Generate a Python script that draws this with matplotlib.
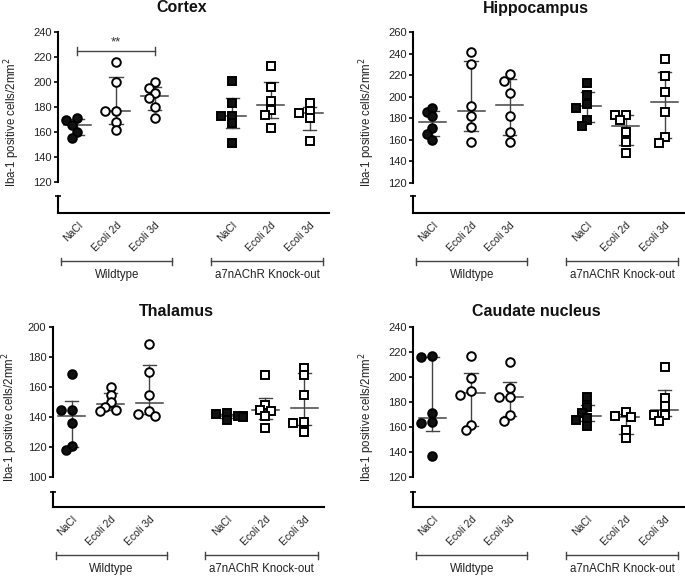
"""
Iba-1 positive cells per brain region, wildtype vs a7nAChR knock-out
"""

import matplotlib.pyplot as plt
import numpy as np

plt.rcParams["font.family"] = ["Liberation Sans", "DejaVu Sans"]

W, H = 685, 576

conditions = ["NaCl", "Ecoli 2d", "Ecoli 3d"]
genotypes = ["Wildtype", "a7nAChR Knock-out"]
ylabel = "Iba-1 positive cells/2mm$^{2}$"

# values per group: WT NaCl, WT Ecoli 2d, WT Ecoli 3d, KO NaCl, KO Ecoli 2d, KO Ecoli 3d
cortex = [
    [170, 171, 166, 160, 155],
    [216, 200, 177, 177, 168, 162],
    [200, 195, 191, 187, 180, 171],
    [201, 183, 173, 173, 167, 151],
    [213, 196, 185, 178, 174, 163],
    [183, 177, 175, 171, 153],
]
hippocampus = [
    [186, 190, 182, 171, 165, 160],
    [241, 230, 191, 182, 172, 158],
    [221, 215, 203, 182, 167, 158],
    [213, 202, 193, 190, 178, 173],
    [183, 183, 178, 167, 158, 148],
    [235, 219, 204, 186, 163, 157],
]
thalamus = [
    [169, 145, 145, 136, 121, 118],
    [160, 155, 150, 147, 145, 144],
    [189, 170, 155, 144, 142, 141],
    [143, 142, 141, 141, 140, 138],
    [168, 148, 145, 144, 141, 133],
    [173, 168, 155, 137, 136, 130],
]
caudate = [
    [216, 217, 171, 164, 163, 137],
    [217, 199, 189, 186, 162, 158],
    [212, 191, 184, 184, 170, 165],
    [184, 176, 171, 167, 166, 161],
    [172, 169, 168, 158, 151],
    [208, 183, 177, 170, 170, 165],
]

# panel layout in pixels: left, top, bottom of main axis, top of stub, x-axis line
panels = [
    ("Cortex", cortex, (120, 240), 20, (58, 32, 182, 196, 213), (182, 8)),
    ("Hippocampus", hippocampus, (120, 260), 20, (413, 32, 183, 196, 213), (536, 8)),
    ("Thalamus", thalamus, (100, 200), 20, (52.5, 327, 477, 492, 507), (176, 311)),
    ("Caudate nucleus", caudate, (120, 240), 20, (413, 327, 477, 492, 507), (536, 312)),
]

AX_W = 271
GREY = "#444444"
TXT = "#222222"


def fx(x):
    return x / W


def fy(y):
    return 1 - y / H


def swarm(values, px_per_unit, step=5.5, min_dist=6.8):
    # simple beeswarm: place points in value order, shift sideways on collision
    order = np.argsort(values)[::-1]
    placed = []
    offsets = np.zeros(len(values))
    for i in order:
        v = values[i] * px_per_unit
        for k in [0, -1, 1, -2, 2, -3, 3]:
            x = k * step
            if all(np.hypot(x - px, v - pv) >= min_dist for px, pv in placed):
                break
        placed.append((x, v))
        offsets[i] = x
    return offsets


fig = plt.figure(figsize=(W / 100, H / 100), dpi=100)

positions = [g * 4 + c + 1 for g in range(2) for c in range(3)]

for title, data, ylim, ystep, (left, top, bottom, stub, xline), (tx, ty) in panels:
    ax = fig.add_axes([fx(left), fy(bottom), AX_W / W, (bottom - top) / H])
    low = fig.add_axes([fx(left), fy(xline), AX_W / W, (xline - stub) / H])

    px_per_unit = (bottom - top) / (ylim[1] - ylim[0])
    slot = AX_W / 7

    for i, (pos, vals) in enumerate(zip(positions, data)):
        vals = np.array(vals, dtype=float)
        ko = i >= 3
        filled = i % 3 == 0
        off = swarm(vals, px_per_unit) / slot
        ax.plot(
            pos + off,
            vals,
            "s" if ko else "o",
            ms=5.6 if ko else 6.2,
            mew=1.4,
            mec="black",
            mfc="#111111" if filled else "white",
            ls="none",
            zorder=3,
            clip_on=False,
        )
        q1, med, q3 = np.percentile(vals, [25, 50, 75], method="weibull")
        ax.plot([pos - 0.35, pos + 0.35], [med, med], color=GREY, lw=1.1, zorder=2)
        ax.plot([pos, pos], [q1, q3], color=GREY, lw=1.0, zorder=2)
        for q in (q1, q3):
            ax.plot([pos - 0.17, pos + 0.17], [q, q], color=GREY, lw=1.0, zorder=2)

    ax.set_xlim(0.5, 7.5)
    ax.set_ylim(*ylim)
    ax.set_yticks(np.arange(ylim[0], ylim[1] + 1, ystep))
    ax.set_xticks([])
    for s in ["top", "right", "bottom"]:
        ax.spines[s].set_visible(False)
    ax.spines["left"].set_linewidth(1.5)
    ax.tick_params(axis="y", length=3, width=1.2, labelsize=8, pad=1.5, labelcolor=TXT)

    # broken-axis stub with x axis
    low.set_xlim(0.5, 7.5)
    low.set_ylim(0, 1)
    low.set_yticks([1])
    low.set_yticklabels([])
    low.tick_params(axis="y", direction="inout", length=4.5, width=1.2)
    for s in ["top", "right"]:
        low.spines[s].set_visible(False)
    low.spines["left"].set_linewidth(1.5)
    low.spines["bottom"].set_linewidth(1.5)
    low.set_xticks(positions)
    low.set_xticklabels(conditions * 2, rotation=45, ha="right", rotation_mode="anchor",
                        fontsize=7.5, color=TXT)
    low.tick_params(axis="x", length=0, pad=5)

    # group brackets
    hpx = xline - stub
    yb = -48 / hpx
    yt = -62 / hpx
    for g, (x0, x1) in enumerate([(0.58, 3.45), (4.45, 7.35)]):
        low.plot([x0, x1], [yb, yb], color=GREY, lw=1.0, clip_on=False,
                 transform=low.get_xaxis_transform())
        for xe in (x0, x1):
            low.plot([xe, xe], [yb - 3.5 / hpx, yb + 3.5 / hpx], color=GREY, lw=1.0,
                     clip_on=False, transform=low.get_xaxis_transform())
        low.text((x0 + x1) / 2, yt, genotypes[g], ha="center", va="center", fontsize=8.3,
                 color=TXT, transform=low.get_xaxis_transform())

    fig.text(fx(tx), fy(ty), title, ha="center", va="center", fontsize=11.5,
             fontweight="bold", color="#111111")
    fig.text(fx(max(left - 46, 10)), fy((top + xline) / 2), ylabel, rotation=90, ha="center",
             va="center", fontsize=8.3, color=TXT)

# significance bracket in the cortex panel
ax0 = fig.axes[0]
ax0.plot([1, 3], [225, 225], color=GREY, lw=1.0)
for xe in (1, 3):
    ax0.plot([xe, xe], [222, 228], color=GREY, lw=1.0)
ax0.text(2, 227, "**", ha="center", va="bottom", fontsize=9.5, color="#333333")

fig.savefig("out.png", dpi=100)
